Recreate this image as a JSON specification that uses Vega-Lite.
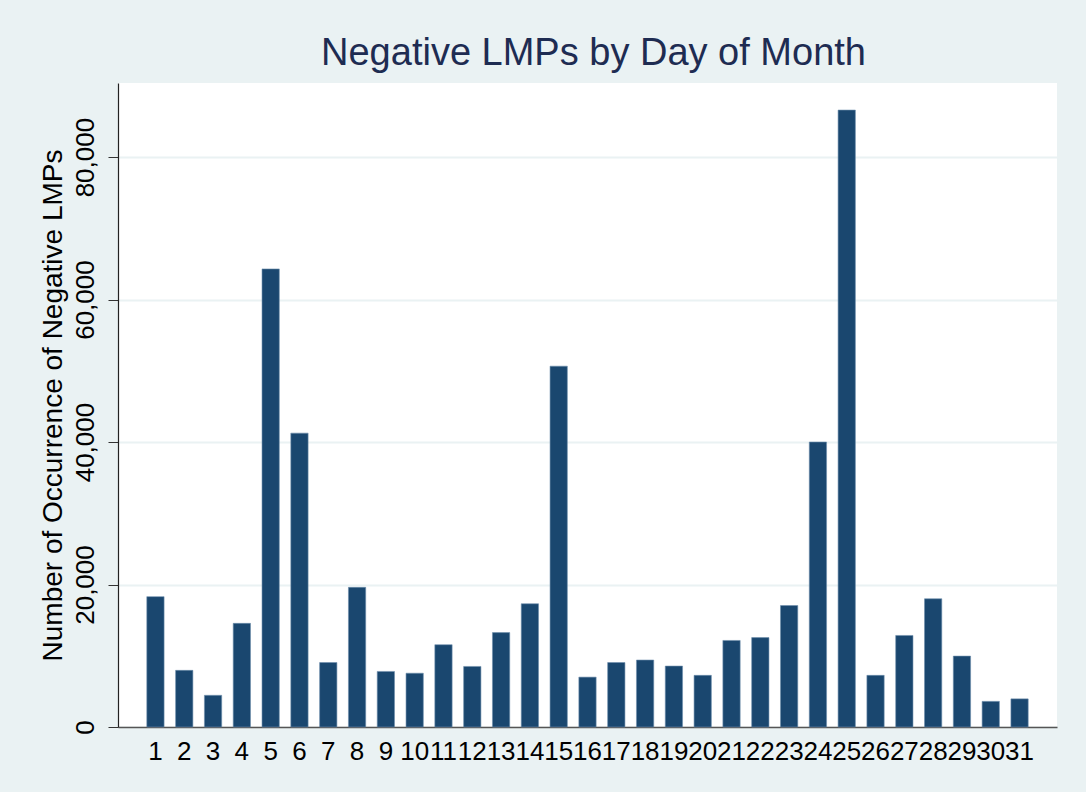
{
  "$schema": "https://vega.github.io/schema/vega-lite/v6.json",
  "autosize": "none",
  "width": 939,
  "height": 644,
  "padding": {"left": 118, "top": 83, "right": 29, "bottom": 65},
  "background": "#EAF2F3",
  "title": {
    "text": "Negative LMPs by Day of Month",
    "font": "Liberation Sans",
    "fontSize": 38,
    "fontWeight": "normal",
    "color": "#1E2C52",
    "anchor": "middle",
    "offset": 10,
    "dx": 6
  },
  "config": {
    "view": {"fill": "white", "stroke": null},
    "font": "Liberation Sans"
  },
  "data": {
    "values": [
      {"day": 1, "count": 18300},
      {"day": 2, "count": 7950},
      {"day": 3, "count": 4450},
      {"day": 4, "count": 14550},
      {"day": 5, "count": 64300},
      {"day": 6, "count": 41250},
      {"day": 7, "count": 9050},
      {"day": 8, "count": 19600},
      {"day": 9, "count": 7800},
      {"day": 10, "count": 7550},
      {"day": 11, "count": 11550},
      {"day": 12, "count": 8500},
      {"day": 13, "count": 13250},
      {"day": 14, "count": 17300},
      {"day": 15, "count": 50650},
      {"day": 16, "count": 7000},
      {"day": 17, "count": 9050},
      {"day": 18, "count": 9400},
      {"day": 19, "count": 8550},
      {"day": 20, "count": 7250},
      {"day": 21, "count": 12150},
      {"day": 22, "count": 12550},
      {"day": 23, "count": 17050},
      {"day": 24, "count": 40000},
      {"day": 25, "count": 86600},
      {"day": 26, "count": 7250},
      {"day": 27, "count": 12850},
      {"day": 28, "count": 18000},
      {"day": 29, "count": 9950},
      {"day": 30, "count": 3600},
      {"day": 31, "count": 3950}
    ]
  },
  "mark": {"type": "bar", "color": "#1A476F", "stroke": "#6F8FAD", "strokeWidth": 0.6},
  "encoding": {
    "x": {
      "field": "day",
      "type": "ordinal",
      "sort": "ascending",
      "scale": {"paddingInner": 0.4, "paddingOuter": 1.095},
      "axis": {
        "title": null,
        "labelAngle": 0,
        "labelFontSize": 26,
        "labelColor": "#000000",
        "labelPadding": 11,
        "ticks": false,
        "domainColor": "#555555",
        "domainWidth": 1.5,
        "grid": false,
        "labelOverlap": false
      }
    },
    "y": {
      "field": "count",
      "type": "quantitative",
      "scale": {"domain": [0, 90400], "nice": false, "zero": true},
      "axis": {
        "title": "Number of Occurrence of Negative LMPs",
        "titleFontSize": 28,
        "titleFontWeight": "normal",
        "titleColor": "#000000",
        "titlePadding": 5,
        "values": [0, 20000, 40000, 60000, 80000],
        "format": ",d",
        "labelAngle": 270,
        "labelAlign": "center",
        "labelBaseline": "bottom",
        "labelFontSize": 26,
        "labelColor": "#000000",
        "labelPadding": 10,
        "tickSize": 10,
        "tickColor": "#333333",
        "domainColor": "#222222",
        "domainWidth": 1.2,
        "gridColor": "#EAF2F3",
        "gridWidth": 2
      }
    }
  }
}
